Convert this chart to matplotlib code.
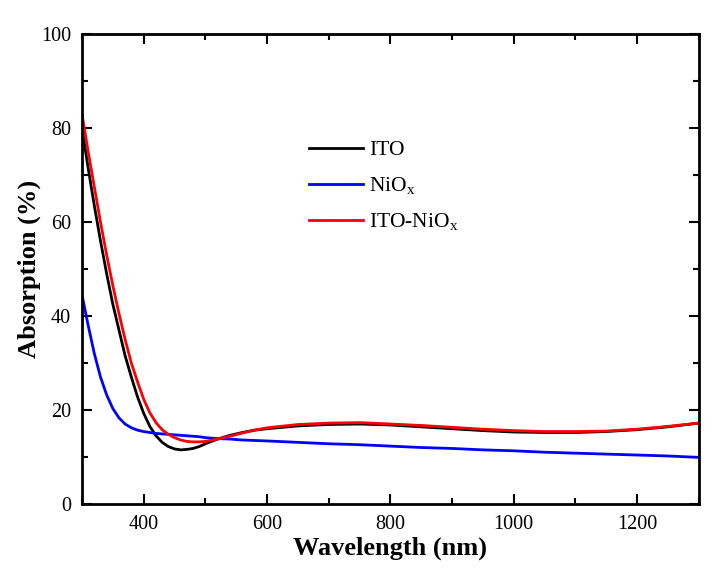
import matplotlib
matplotlib.use("Agg")
import matplotlib.pyplot as plt

# values
wl = [300, 310, 320, 330, 340, 350, 360, 370, 380, 390, 400, 410, 420, 430, 440,
      450, 460, 470, 480, 490, 500, 520, 540, 560, 580, 600, 650, 700, 750, 800,
      850, 900, 950, 1000, 1050, 1100, 1150, 1200, 1250, 1300]

ito = [80.0, 71.5, 63.5, 56.0, 49.0, 42.5, 37.0, 31.5, 27.0, 22.8, 19.3, 16.5, 14.5, 13.1, 12.2,
       11.7, 11.5, 11.6, 11.8, 12.2, 12.8, 13.8, 14.6, 15.2, 15.7, 16.0, 16.6, 16.9, 17.0, 16.8,
       16.4, 16.0, 15.6, 15.3, 15.2, 15.2, 15.4, 15.8, 16.4, 17.2]

nio = [44.5, 38.0, 32.0, 27.0, 23.2, 20.3, 18.3, 17.0, 16.2, 15.7, 15.4, 15.2, 15.0, 14.9, 14.8,
       14.7, 14.6, 14.5, 14.4, 14.3, 14.1, 13.9, 13.8, 13.6, 13.5, 13.4, 13.1, 12.8, 12.6, 12.3,
       12.0, 11.8, 11.5, 11.3, 11.0, 10.8, 10.6, 10.4, 10.2, 9.9]

ito_nio = [83.0, 75.0, 67.5, 60.0, 53.0, 46.5, 40.5, 35.0, 30.0, 26.0, 22.3, 19.4, 17.3, 15.8, 14.8,
           14.1, 13.6, 13.3, 13.2, 13.2, 13.3, 13.8, 14.4, 15.1, 15.7, 16.2, 16.9, 17.2, 17.3, 17.0,
           16.7, 16.3, 15.9, 15.6, 15.4, 15.4, 15.5, 15.9, 16.5, 17.2]

plt.rcParams['font.family'] = 'Liberation Serif'
plt.rcParams['mathtext.fontset'] = 'custom'
plt.rcParams['mathtext.rm'] = 'Liberation Serif'
plt.rcParams['mathtext.it'] = 'Liberation Serif'

fig = plt.figure(figsize=(7.13, 5.70), dpi=100)
ax = fig.add_axes([0.115, 0.116, 0.865, 0.824])

ax.plot(wl, ito, color='black', lw=2, label='ITO')
ax.plot(wl, nio, color='#0000ff', lw=2, label='NiO$_\\mathregular{x}$')
ax.plot(wl, ito_nio, color='#ff0000', lw=2, label='ITO-NiO$_\\mathregular{x}$')

ax.set_xlim(300, 1300)
ax.set_ylim(0, 100)
ax.set_xticks([400, 600, 800, 1000, 1200])
ax.set_xticks(range(300, 1301, 100), minor=True)
ax.set_yticks(range(0, 101, 20))
ax.set_yticks(range(0, 101, 10), minor=True)

ax.tick_params(which='both', direction='in', top=True, right=True, width=1.5, labelsize=14.5)
ax.tick_params(which='major', length=7, pad=8)
ax.tick_params(which='minor', length=4)
for s in ax.spines.values():
    s.set_linewidth(2)

ax.set_xlabel('Wavelength (nm)', fontsize=19, fontweight='bold', labelpad=2)
ax.set_ylabel('Absorption (%)', fontsize=19, fontweight='bold', labelpad=0)

ax.legend(frameon=False, fontsize=15.5, handlelength=2.5, handletextpad=0.3,
          labelspacing=0.7, loc='upper left', bbox_to_anchor=(0.337, 0.816))

fig.savefig('out.png', dpi=100)
